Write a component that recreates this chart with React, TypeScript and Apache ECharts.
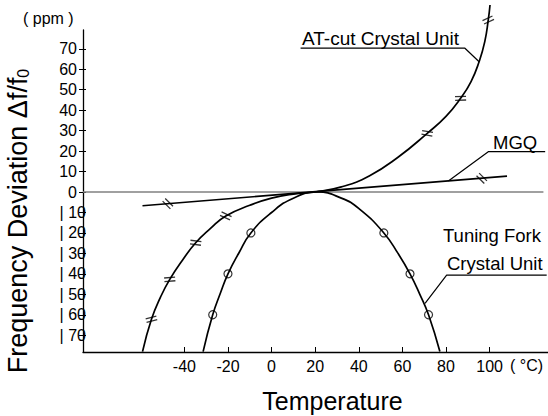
import React, { useEffect, useRef } from "react";
import * as echarts from "echarts";

// ---- tick values ----
const xTicks = [-40, -20, 0, 20, 40, 60, 80, 100];
const yPosTicks = [0, 10, 20, 30, 40, 50, 60, 70];
const yNegTicks = [-10, -20, -30, -40, -50, -60, -70];

// ---- series data (temperature °C, deviation ppm) ----
const atCut = [
  [-59.2, -78], [-55.1, -62.2], [-51, -51.5], [-46.7, -42.7], [-40.8, -33.2],
  [-34.8, -24.8], [-28, -17.8], [-21, -11.7], [-10, -6.5], [0, -3], [10, -1],
  [20, 0], [32, 2.5], [45, 8], [58, 17], [71.4, 28.7], [80, 37], [86.7, 45.8],
  [91.5, 54], [95.2, 63.7], [97.8, 73.5], [99.4, 84.1], [100.2, 91.4],
];
const atHash = [
  [-55.1, -62.2], [-46.7, -42.7], [-34.8, -24.8], [-21, -11.7],
  [71.4, 28.7], [86.7, 45.8], [99.4, 84.1],
];
const mgq = [[-59.2, -6.7], [108, 7.8]];
const mgqHash = [[-47.6, -5.7], [96.4, 6.7]];
const tuningFork = [
  [-31.4, -78], [-27, -60], [-23.5, -49.5], [-20, -40], [-15, -29.8],
  [-9.5, -20], [0, -10], [10, -3], [21, 0], [32, -3], [40.5, -8.5],
  [51.5, -20], [58, -30], [63.5, -40], [68, -50], [72, -60], [77.2, -78],
];
const tfCircles = [[-27, -60], [-20, -40], [-9.5, -20], [51.5, -20], [63.5, -40], [72, -60]];
const zeroLine = [[-86.5, 0], [124.7, 0]];

// leader lines of the annotations (data space)
const atLeader = [[13.3, 70.3], [88.7, 70.3], [95.2, 63.7]];
const mgqLeader = [[125.5, 19.7], [99.4, 19.7], [81.1, 5.4]];
const tfLeader = [[126.2, -40.6], [80.3, -40.6], [70.4, -54.4]];

// styles
const atHashRotate = [104, 95, 83, 65, 80, 92, 115];
const mgqHashRotate = [45, 45];

const FONT = "'Liberation Sans', Arial, Helvetica, sans-serif";
const HASH = "path://M0,0H1.3V10H0Z M3.7,0H5V10H3.7Z";

export default function App() {
  const ref = useRef<HTMLDivElement>(null);
  useEffect(() => {
    document.body.style.margin = "0";
    const chart = echarts.init(ref.current!, undefined, { renderer: "svg" });
    const lineBase = {
      type: "line",
      symbol: "none",
      clip: false,
      silent: true,
      smooth: false,
    };
    const leader = (data: number[][]) => ({
      ...lineBase,
      data,
      lineStyle: { color: "#000", width: 1.2 },
      z: 4,
    });
    const option: any = {
      animation: false,
      textStyle: { fontFamily: FONT },
      grid: { left: 83, right: 0, top: 30, bottom: 64, containLabel: false, outerBoundsMode: "none" },
      xAxis: {
        type: "value",
        min: -86.5,
        max: 126.8,
        name: "Temperature",
        nameLocation: "middle",
        nameGap: 36,
        nameTextStyle: { fontSize: 25, color: "#000", fontFamily: FONT, padding: [0, 0, 0, 34] },
        axisLine: { show: true, onZero: false, lineStyle: { color: "#000", width: 1.3 } },
        axisTick: { show: true, inside: true, length: 5, customValues: xTicks, lineStyle: { color: "#000" } },
        axisLabel: { customValues: xTicks, fontSize: 16, color: "#000", margin: 6, fontFamily: FONT },
        splitLine: { show: false },
      },
      yAxis: [
        {
          type: "value",
          min: -78.2,
          max: 79.2,
          position: "left",
          name: "Frequency Deviation Δf/f{sub|0}",
          nameLocation: "middle",
          nameGap: 52,
          nameTextStyle: {
            fontSize: 27,
            color: "#000",
            fontFamily: FONT,
            padding: [0, 60, 0, 0],
            rich: { sub: { fontSize: 16, color: "#000", fontFamily: FONT, verticalAlign: "bottom", lineHeight: 16, padding: [6, 0, 0, 0] } },
          },
          axisLine: { show: true, onZero: false, lineStyle: { color: "#000", width: 1.3 } },
          axisTick: { show: true, inside: false, length: 4, customValues: [...yNegTicks, ...yPosTicks], lineStyle: { color: "#000" } },
          axisLabel: { customValues: yPosTicks, fontSize: 16, color: "#000", margin: 6, fontFamily: FONT },
          splitLine: { show: false },
        },
        {
          type: "value",
          min: -78.2,
          max: 79.2,
          position: "left",
          axisLine: { show: false, onZero: false },
          axisTick: { show: true, inside: true, length: 3, customValues: [...yNegTicks, ...yPosTicks], lineStyle: { color: "#000" } },
          axisLabel: {
            customValues: yNegTicks,
            fontSize: 16,
            color: "#000",
            margin: -3,
            fontFamily: FONT,
            formatter: (v: number) => "| " + Math.abs(v),
          },
          splitLine: { show: false },
        },
      ],
      series: [
        { ...lineBase, data: zeroLine, lineStyle: { color: "#808080", width: 1.6 }, z: 1 },
        { ...lineBase, data: atCut, smooth: 0.5, lineStyle: { color: "#000", width: 1.7 }, z: 3 },
        { ...lineBase, data: mgq, lineStyle: { color: "#000", width: 1.7 }, z: 3 },
        { ...lineBase, data: tuningFork, smooth: 0.5, lineStyle: { color: "#000", width: 1.7 }, z: 3 },
        leader(atLeader),
        leader(mgqLeader),
        leader(tfLeader),
        {
          type: "scatter",
          silent: true,
          clip: false,
          symbol: HASH,
          symbolSize: [5, 11],
          itemStyle: { color: "#000" },
          z: 5,
          data: [
            ...atHash.map((p, i) => ({ value: p, symbolRotate: atHashRotate[i] })),
            ...mgqHash.map((p, i) => ({ value: p, symbolRotate: mgqHashRotate[i] })),
          ],
        },
        {
          type: "scatter",
          silent: true,
          clip: false,
          symbol: "circle",
          symbolSize: 8,
          itemStyle: { color: "transparent", borderColor: "#000", borderWidth: 1.2 },
          z: 5,
          data: tfCircles,
        },
      ],
      graphic: [
        { type: "text", x: 23, y: 18, style: { text: "( ppm )", fontSize: 16, fontFamily: FONT, fill: "#000", align: "left", verticalAlign: "middle" } },
        { type: "text", x: 510, y: 365, style: { text: "( °C)", fontSize: 16, fontFamily: FONT, fill: "#000", align: "left", verticalAlign: "middle" } },
        { type: "text", x: 302, y: 38, style: { text: "AT-cut Crystal Unit", fontSize: 19, fontFamily: FONT, fill: "#000", align: "left", verticalAlign: "middle" } },
        { type: "text", x: 493, y: 142, style: { text: "MGQ", fontSize: 18.5, fontFamily: FONT, fill: "#000", align: "left", verticalAlign: "middle" } },
        { type: "text", x: 443, y: 235, style: { text: "Tuning Fork", fontSize: 18.5, fontFamily: FONT, fill: "#000", align: "left", verticalAlign: "middle" } },
        { type: "text", x: 447, y: 263, style: { text: "Crystal Unit", fontSize: 18.5, fontFamily: FONT, fill: "#000", align: "left", verticalAlign: "middle" } },
      ],
    };
    chart.setOption(option);
    return () => chart.dispose();
  }, []);
  return <div ref={ref} style={{ width: 548, height: 416 }} />;
}
